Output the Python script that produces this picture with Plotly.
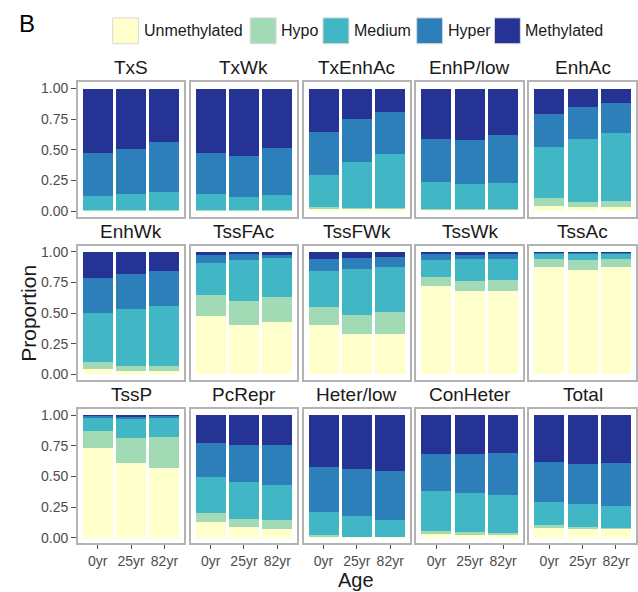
import plotly.graph_objects as go

# ---------------- data ----------------
regions = ["TxS", "TxWk", "TxEnhAc", "EnhP/low", "EnhAc",
           "EnhWk", "TssFAc", "TssFWk", "TssWk", "TssAc",
           "TssP", "PcRepr", "Heter/low", "ConHeter", "Total"]
ages = ["0yr", "25yr", "82yr"]
states = ["Unmethylated", "Hypo", "Medium", "Hyper", "Methylated"]
state_colors = ["#FFFFCC", "#A1DAB4", "#41B6C4", "#2C7FB8", "#253494"]

# proportion of each state per region, for ages 0yr / 25yr / 82yr
unmethylated = [
    [0.004, 0.004, 0.004], [0.004, 0.004, 0.004], [0.020, 0.015, 0.015],
    [0.010, 0.009, 0.009], [0.040, 0.032, 0.030],
    [0.046, 0.027, 0.027], [0.481, 0.405, 0.429], [0.405, 0.329, 0.329],
    [0.720, 0.679, 0.679], [0.880, 0.851, 0.878],
    [0.736, 0.609, 0.571], [0.133, 0.090, 0.073], [0.012, 0.006, 0.006],
    [0.030, 0.019, 0.019], [0.084, 0.073, 0.071],
]
hypo = [
    [0.006, 0.006, 0.006], [0.006, 0.006, 0.006], [0.012, 0.012, 0.012],
    [0.010, 0.009, 0.009], [0.063, 0.044, 0.048],
    [0.052, 0.038, 0.038], [0.168, 0.198, 0.201], [0.149, 0.157, 0.179],
    [0.073, 0.085, 0.095], [0.063, 0.081, 0.062],
    [0.136, 0.203, 0.250], [0.068, 0.065, 0.076], [0.007, 0.004, 0.004],
    [0.027, 0.027, 0.019], [0.019, 0.014, 0.013],
]
medium = [
    [0.109, 0.128, 0.147], [0.128, 0.106, 0.117], [0.263, 0.370, 0.441],
    [0.221, 0.204, 0.212], [0.416, 0.510, 0.563],
    [0.407, 0.468, 0.495], [0.259, 0.329, 0.324], [0.291, 0.373, 0.372],
    [0.142, 0.176, 0.169], [0.047, 0.058, 0.050],
    [0.112, 0.164, 0.160], [0.294, 0.299, 0.280], [0.190, 0.167, 0.139],
    [0.326, 0.321, 0.315], [0.190, 0.187, 0.174],
]
hyper = [
    [0.354, 0.367, 0.408], [0.335, 0.333, 0.384], [0.354, 0.352, 0.340],
    [0.351, 0.356, 0.392], [0.276, 0.260, 0.243],
    [0.283, 0.285, 0.285], [0.068, 0.049, 0.030], [0.098, 0.095, 0.082],
    [0.046, 0.044, 0.043], [0.007, 0.007, 0.007],
    [0.011, 0.016, 0.013], [0.282, 0.301, 0.329], [0.373, 0.383, 0.397],
    [0.305, 0.315, 0.337], [0.329, 0.332, 0.356],
]
methylated = [
    [0.527, 0.495, 0.435], [0.527, 0.551, 0.489], [0.351, 0.251, 0.192],
    [0.408, 0.422, 0.378], [0.205, 0.154, 0.116],
    [0.212, 0.182, 0.155], [0.024, 0.019, 0.016], [0.057, 0.046, 0.038],
    [0.019, 0.016, 0.014], [0.003, 0.003, 0.003],
    [0.005, 0.008, 0.006], [0.223, 0.245, 0.242], [0.418, 0.440, 0.454],
    [0.312, 0.318, 0.310], [0.378, 0.394, 0.386],
]
state_values = [unmethylated, hypo, medium, hyper, methylated]
y_ticks = [0.0, 0.25, 0.5, 0.75, 1.0]
y_tick_text = ["0.00", "0.25", "0.50", "0.75", "1.00"]

# ---------------- layout geometry (pixels) ----------------
W, H = 638, 592
col_left = [78, 191.25, 304.5, 417.75, 531]
panel_w = 107
row_top = [81, 245.5, 410]
panel_h = 135

FONT = "Liberation Sans, Arial, Helvetica, sans-serif"
TICK_GREY = "#4D4D4D"
BORDER = "#B3B3B3"

fig = go.Figure()
layout_axes = {}
annotations = []

for idx, region in enumerate(regions):
    r, c = divmod(idx, 5)
    n = idx + 1
    xa = "x" if n == 1 else f"x{n}"
    ya = "y" if n == 1 else f"y{n}"
    for s, name in enumerate(states):
        fig.add_trace(go.Bar(
            x=ages, y=state_values[s][idx], name=name,
            marker=dict(color=state_colors[s], line=dict(width=0)),
            xaxis=xa, yaxis=ya, showlegend=False,
            hovertemplate=region + " %{x}<br>" + name + ": %{y:.3f}<extra></extra>",
        ))
    x0 = col_left[c] / W
    x1 = (col_left[c] + panel_w) / W
    y1 = 1 - row_top[r] / H
    y0 = 1 - (row_top[r] + panel_h) / H
    xkey = "xaxis" if n == 1 else f"xaxis{n}"
    ykey = "yaxis" if n == 1 else f"yaxis{n}"
    layout_axes[xkey] = dict(
        domain=[x0, x1], anchor=ya, type="category",
        categoryorder="array", categoryarray=ages,
        range=[-0.6, 2.6], showgrid=False, zeroline=False,
        showline=True, mirror=True, linecolor=BORDER, linewidth=1.5,
        ticks="outside" if r == 2 else "", ticklen=4, tickcolor=TICK_GREY,
        tickwidth=1, showticklabels=(r == 2),
        tickfont=dict(family=FONT, size=14, color=TICK_GREY),
        fixedrange=True,
    )
    layout_axes[ykey] = dict(
        domain=[y0, y1], anchor=xa, range=[-0.045, 1.05],
        showgrid=False, zeroline=False,
        showline=True, mirror=True, linecolor=BORDER, linewidth=1.5,
        tickvals=y_ticks, ticktext=y_tick_text,
        ticks="outside" if c == 0 else "", ticklen=5, tickcolor=TICK_GREY,
        tickwidth=1, showticklabels=(c == 0),
        tickfont=dict(family=FONT, size=14, color=TICK_GREY),
        fixedrange=True,
    )
    # strip title
    annotations.append(dict(
        text=region, xref="paper", yref="paper",
        x=(x0 + x1) / 2, y=y1, yshift=2, xanchor="center", yanchor="bottom",
        showarrow=False, font=dict(family=FONT, size=19, color="#1A1A1A"),
    ))

# axis titles
annotations.append(dict(
    text="Proportion", xref="paper", yref="paper",
    x=29 / W, y=1 - 313 / H, textangle=-90, xanchor="center", yanchor="middle",
    showarrow=False, font=dict(family=FONT, size=21, color="#1A1A1A"),
))
annotations.append(dict(
    text="Age", xref="paper", yref="paper",
    x=357 / W, y=1 - 582 / H, xanchor="center", yanchor="middle",
    showarrow=False, font=dict(family=FONT, size=20, color="#1A1A1A"),
))
# panel label
annotations.append(dict(
    text="B", xref="paper", yref="paper",
    x=17 / W, y=1 - 22 / H, xanchor="left", yanchor="middle",
    showarrow=False, font=dict(family=FONT, size=24, color="#000000"),
))

# manual legend (swatch + label)
legend_swatch_x = [113, 251, 324, 418, 496]
shapes = []
for s, name in enumerate(states):
    sx = legend_swatch_x[s]
    shapes.append(dict(
        type="rect", xref="paper", yref="paper",
        x0=sx / W, x1=(sx + 26) / W, y0=1 - 42 / H, y1=1 - 16 / H,
        fillcolor=state_colors[s], line=dict(color="#D9D9D9", width=1),
    ))
    annotations.append(dict(
        text=name, xref="paper", yref="paper",
        x=(sx + 29) / W, y=1 - 29 / H, xanchor="left", yanchor="middle",
        showarrow=False, font=dict(family=FONT, size=16, color="#1A1A1A"),
    ))

fig.update_layout(
    width=W, height=H, margin=dict(l=0, r=0, t=0, b=0),
    paper_bgcolor="white", plot_bgcolor="white",
    barmode="stack", bargap=0.1, showlegend=False,
    annotations=annotations, shapes=shapes,
    **layout_axes,
)

fig.write_html("out.html", config={"displayModeBar": False})
